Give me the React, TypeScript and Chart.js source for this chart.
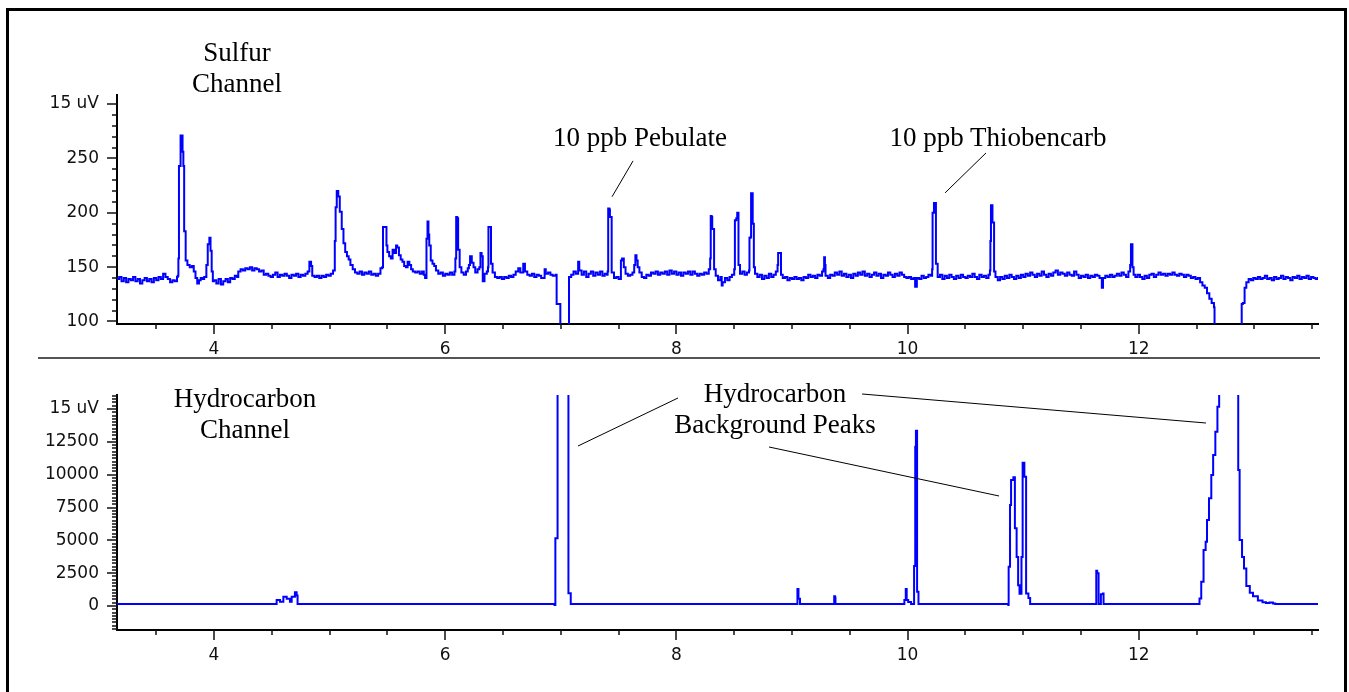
import React, { useEffect, useRef } from "react";
import { Chart, registerables } from "chart.js";

Chart.register(...registerables);

// ---- axes ----
const X_MIN = 3.161;
const X_MAX = 13.55;
const X_TICKS = [4, 6, 8, 10, 12];

const S_Y_MIN = 97.7;
const S_Y_MAX = 308.3;
const S_Y_TICKS = [100, 150, 200, 250, 300];
const S_Y_LABELS = ["100", "150", "200", "250", "15 uV"];

const H_Y_MIN = -1827;
const H_Y_MAX = 16066;
const H_Y_TICKS = [0, 2500, 5000, 7500, 10000, 12500, 15000];
const H_Y_LABELS = ["0", "2500", "5000", "7500", "10000", "12500", "15 uV"];

// ---- sulfur channel trace (time, signal) ----
const SULFUR_T = [
  3.161, 3.18, 3.2, 3.22, 3.24, 3.26, 3.28, 3.3, 3.32, 3.34, 3.36, 3.38, 3.4, 3.42, 3.44, 3.46, 3.48, 3.5, 3.52, 3.54,
  3.56, 3.58, 3.6, 3.62, 3.64, 3.66, 3.68, 3.686, 3.692, 3.697, 3.711, 3.728, 3.735, 3.742, 3.755, 3.77, 3.79, 3.81,
  3.825, 3.84, 3.855, 3.87, 3.885, 3.9, 3.915, 3.934, 3.946, 3.96, 3.97, 3.98, 3.99, 4.0, 4.02, 4.04, 4.06, 4.08, 4.1,
  4.12, 4.14, 4.16, 4.18, 4.2, 4.21, 4.23, 4.25, 4.27, 4.29, 4.31, 4.33, 4.35, 4.37, 4.39, 4.41, 4.43, 4.45, 4.47,
  4.49, 4.51, 4.53, 4.55, 4.57, 4.59, 4.61, 4.63, 4.65, 4.67, 4.69, 4.71, 4.73, 4.75, 4.77, 4.79, 4.81, 4.825, 4.84,
  4.85, 4.87, 4.89, 4.91, 4.93, 4.95, 4.97, 4.99, 5.01, 5.03, 5.045, 5.052, 5.062, 5.075, 5.088, 5.105, 5.12, 5.135,
  5.15, 5.165, 5.18, 5.2, 5.22, 5.24, 5.26, 5.28, 5.3, 5.32, 5.34, 5.36, 5.38, 5.4, 5.42, 5.44, 5.455, 5.462, 5.485,
  5.492, 5.5, 5.515, 5.53, 5.545, 5.56, 5.575, 5.585, 5.6, 5.615, 5.63, 5.645, 5.66, 5.675, 5.69, 5.705, 5.72, 5.74,
  5.76, 5.78, 5.8, 5.815, 5.826, 5.838, 5.847, 5.855, 5.862, 5.875, 5.89, 5.905, 5.92, 5.94, 5.96, 5.98, 6.0, 6.02,
  6.04, 6.06, 6.08, 6.088, 6.095, 6.104, 6.112, 6.125, 6.14, 6.16, 6.18, 6.195, 6.205, 6.215, 6.23, 6.245, 6.26, 6.28,
  6.295, 6.305, 6.315, 6.325, 6.34, 6.36, 6.37, 6.374, 6.388, 6.396, 6.41, 6.43, 6.45, 6.47, 6.49, 6.51, 6.53, 6.55,
  6.57, 6.59, 6.61, 6.632, 6.65, 6.675, 6.69, 6.71, 6.73, 6.75, 6.77, 6.79, 6.81, 6.83, 6.86, 6.87, 6.89, 6.91, 6.93,
  6.955, 6.964, 6.993, 6.996, 7.068, 7.071, 7.09, 7.11, 7.13, 7.15, 7.16, 7.18, 7.2, 7.22, 7.24, 7.26, 7.28, 7.3, 7.32,
  7.34, 7.36, 7.38, 7.4, 7.405, 7.41, 7.42, 7.425, 7.435, 7.44, 7.46, 7.48, 7.5, 7.52, 7.53, 7.545, 7.56, 7.58, 7.6,
  7.62, 7.635, 7.645, 7.655, 7.665, 7.68, 7.7, 7.72, 7.74, 7.76, 7.78, 7.8, 7.82, 7.84, 7.86, 7.88, 7.9, 7.92, 7.94,
  7.96, 7.98, 8.0, 8.02, 8.04, 8.06, 8.08, 8.1, 8.12, 8.14, 8.16, 8.18, 8.2, 8.22, 8.24, 8.26, 8.28, 8.292, 8.297,
  8.305, 8.31, 8.318, 8.326, 8.34, 8.36, 8.38, 8.392, 8.4, 8.42, 8.44, 8.46, 8.48, 8.5, 8.506, 8.518, 8.526, 8.532,
  8.537, 8.55, 8.57, 8.59, 8.61, 8.628, 8.632, 8.643, 8.646, 8.656, 8.66, 8.666, 8.67, 8.68, 8.7, 8.72, 8.74, 8.76,
  8.78, 8.8, 8.82, 8.84, 8.86, 8.875, 8.88, 8.895, 8.905, 8.92, 8.94, 8.96, 8.98, 9.0, 9.02, 9.04, 9.06, 9.08, 9.1,
  9.12, 9.14, 9.16, 9.18, 9.2, 9.22, 9.24, 9.26, 9.272, 9.278, 9.285, 9.29, 9.31, 9.33, 9.35, 9.37, 9.39, 9.41, 9.43,
  9.45, 9.47, 9.49, 9.51, 9.53, 9.55, 9.57, 9.59, 9.61, 9.63, 9.65, 9.67, 9.69, 9.71, 9.73, 9.75, 9.77, 9.79, 9.81,
  9.83, 9.85, 9.87, 9.89, 9.91, 9.93, 9.95, 9.97, 9.99, 10.01, 10.03, 10.05, 10.065, 10.08, 10.1, 10.12, 10.14, 10.16,
  10.18, 10.2, 10.212, 10.216, 10.222, 10.228, 10.24, 10.245, 10.26, 10.28, 10.3, 10.32, 10.34, 10.36, 10.38, 10.4,
  10.42, 10.44, 10.46, 10.48, 10.5, 10.52, 10.54, 10.56, 10.58, 10.6, 10.62, 10.64, 10.66, 10.68, 10.7, 10.712,
  10.716, 10.719, 10.721, 10.731, 10.734, 10.744, 10.748, 10.76, 10.78, 10.8, 10.82, 10.84, 10.86, 10.88, 10.9, 10.92,
  10.94, 10.96, 10.98, 11.0, 11.02, 11.04, 11.06, 11.08, 11.1, 11.12, 11.14, 11.16, 11.18, 11.2, 11.22, 11.24, 11.26,
  11.28, 11.3, 11.32, 11.34, 11.36, 11.38, 11.4, 11.42, 11.44, 11.46, 11.48, 11.5, 11.52, 11.54, 11.56, 11.58, 11.6,
  11.62, 11.64, 11.66, 11.68, 11.69, 11.71, 11.73, 11.75, 11.77, 11.79, 11.81, 11.83, 11.85, 11.87, 11.89, 11.91,
  11.925, 11.932, 11.94, 11.945, 11.955, 11.97, 11.99, 12.01, 12.03, 12.05, 12.07, 12.09, 12.11, 12.13, 12.15, 12.17,
  12.19, 12.21, 12.23, 12.25, 12.27, 12.29, 12.31, 12.33, 12.35, 12.37, 12.39, 12.41, 12.43, 12.45, 12.47, 12.49,
  12.51, 12.53, 12.55, 12.57, 12.59, 12.61, 12.63, 12.65, 12.655, 12.885, 12.89, 12.9, 12.915, 12.93, 12.95, 12.97,
  12.99, 13.01, 13.03, 13.05, 13.07, 13.09, 13.11, 13.13, 13.15, 13.17, 13.19, 13.21, 13.23, 13.25, 13.27, 13.29,
  13.31, 13.33, 13.35, 13.37, 13.39, 13.41, 13.43, 13.45, 13.47, 13.49, 13.51, 13.53, 13.55,
];
const SULFUR_V = [
  139, 141, 137, 140, 136, 139, 138, 141, 137, 139, 135, 138, 140, 137, 139, 136, 140, 138, 141, 139,
  144, 141, 139, 136, 138, 137, 141, 142, 158, 243, 271, 256, 243, 183, 156, 152, 150, 151,
  146, 140, 135, 138, 140, 139, 141, 152, 171, 177, 165, 146, 137, 138, 135, 139, 134, 137, 139,
  136, 140, 139, 142, 141, 146, 148, 147, 149, 148, 150, 147, 149, 148, 146, 147, 143, 144, 142,
  141, 143, 145, 141, 143, 142, 144, 142, 140, 143, 142, 144, 141, 143, 142, 144, 146, 155, 151,
  142, 141, 142, 140, 142, 141, 143, 142, 144, 147, 174, 205, 220, 215, 201, 185, 172, 164,
  160, 157, 152, 148, 145, 144, 146, 143, 145, 144, 146, 143, 144, 142, 144, 149, 150, 187, 187,
  170, 164, 160, 158, 166, 163, 170, 168, 161, 157, 155, 151, 150, 155, 152, 148, 146, 145,
  146, 144, 146, 143, 140, 176, 192, 180, 170, 156, 153, 151, 147, 144, 145, 142, 144, 143,
  145, 143, 146, 158, 196, 195, 166, 150, 145, 143, 146, 149, 152, 160, 154, 150, 145, 148,
  150, 163, 160, 137, 144, 146, 150, 187, 187, 153, 145, 141, 140, 141, 139, 141, 140, 142,
  141, 143, 146, 149, 145, 153, 146, 143, 142, 144, 141, 143, 142, 140, 148, 144, 145, 143, 142,
  143, 116, 116, 60, 60, 141, 143, 146, 144, 155, 147, 143, 146, 141, 144, 146, 142, 145, 143,
  146, 142, 144, 143, 146, 204, 203, 196, 196, 145, 140, 141, 139, 156, 158, 150, 144, 142, 143,
  145, 152, 161, 156, 150, 145, 141, 140, 143, 142, 145, 144, 146, 143, 145, 144, 146, 143, 147,
  144, 146, 143, 145, 142, 145, 144, 146, 143, 146, 144, 142, 144, 143, 145, 144, 148, 158, 197,
  196, 185, 185, 148, 142, 138, 141, 133, 136, 140, 138, 141, 143, 148, 193, 195, 200, 200,
  152, 144, 146, 143, 145, 147, 177, 178, 218, 218, 190, 190, 150, 144, 141, 143, 139, 142,
  140, 144, 141, 143, 146, 152, 163, 163, 143, 140, 141, 138, 140, 139, 141, 139, 140, 138, 141,
  140, 143, 141, 142, 140, 143, 142, 146, 148, 159, 152, 142, 140, 143, 142, 145, 143, 146, 142,
  144, 141, 143, 140, 144, 142, 145, 143, 146, 142, 144, 141, 143, 145, 142, 144, 140, 143, 142,
  145, 143, 141, 144, 142, 145, 143, 141, 140, 141, 139, 140, 132, 140, 139, 142, 140, 141,
  143, 142, 148, 200, 200, 209, 209, 153, 141, 143, 139, 142, 140, 143, 141, 139,
  142, 140, 143, 141, 140, 142, 141, 144, 141, 139, 143, 141, 142, 140, 143, 147,
  174, 174, 207, 207, 191, 191, 146, 141, 138, 141, 139, 142, 140, 143, 141, 139,
  142, 140, 143, 141, 144, 142, 145, 143, 141, 144, 142, 146, 143, 141, 144, 142, 145,
  147, 143, 145, 144, 142, 145, 143, 142, 146, 143, 140, 142, 141, 143, 140, 142, 141,
  143, 142, 140, 131, 140, 142, 141, 143, 141, 142, 144, 142, 145, 143, 141, 146,
  152, 171, 171, 150, 143, 141, 143, 141, 139, 142, 140, 143, 144, 141, 143, 145,
  143, 144, 142, 144, 143, 145, 143, 142, 144, 143, 141, 143, 142, 140, 141, 139,
  140, 136, 133, 131, 126, 121, 117, 113, 60, 60, 116, 117, 131, 136, 139, 138,
  140, 139, 141, 139, 140, 142, 139, 140, 138, 141, 139, 140, 142, 139, 141, 140,
  138, 141, 140, 142, 139, 141, 140, 142, 139, 141, 140, 139, 141,
];

// ---- hydrocarbon channel trace (time, signal) ----
const HC_T = [
  3.161, 4.5, 4.542, 4.571, 4.6, 4.629, 4.657, 4.672, 4.7, 4.715, 4.723, 6.944, 6.946, 6.953, 6.968, 6.972, 7.062,
  7.066, 7.083, 7.086, 9.044, 9.047, 9.053, 9.056, 9.066, 9.069, 9.362, 9.365, 9.372, 9.376, 9.965, 9.972, 9.984,
  9.992, 10.005, 10.03, 10.052, 10.056, 10.062, 10.066, 10.072, 10.078, 10.082, 10.09, 10.094, 10.868, 10.871,
  10.874, 10.886, 10.895, 10.915, 10.928, 10.943, 10.956, 10.968, 10.985, 10.995, 11.005, 11.01, 11.02, 11.025,
  11.045, 11.06, 11.628, 11.632, 11.64, 11.648, 11.652, 11.668, 11.672, 11.69, 11.695, 12.51, 12.525, 12.54, 12.56,
  12.578, 12.59, 12.607, 12.627, 12.643, 12.662, 12.68, 12.695, 12.857, 12.86, 12.872, 12.893, 12.91, 12.93, 12.96,
  12.988, 13.03, 13.07, 13.1, 13.13, 13.16, 13.18, 13.55,
];
const HC_V = [
  150, 150, 460, 330, 700, 560, 330, 700, 1040, 800, 150, 150, 80, 5150, 5150, 30000, 30000,
  967, 967, 150, 150, 1290, 1290, 550, 550, 150, 150, 740, 650, 150, 150, 460, 1290,
  460, 300, 150, 150, 3050, 3050, 12130, 13350, 13350, 1090, 1090, 150, 150, 80,
  2990, 7690, 9590, 9800, 5920, 3740, 1580, 940, 3740, 10910, 10910, 9850, 9850, 960,
  600, 150, 150, 2690, 2500, 2500, 150, 150, 900, 960, 150, 150, 580, 1850, 4260,
  4900, 6550, 8200, 9970, 11500, 13270, 15180, 30000, 30000, 10360, 5030, 3740, 2860, 1520, 1010,
  750, 420, 280, 220, 260, 200, 150, 150,
];

// ---- annotation leader lines, in data units: [t1, v1, t2, v2] ----
const TOP_LEADERS = [
  [7.625, 247.7, 7.443, 214.7],
  [10.678, 255, 10.324, 218.3],
];
const BOTTOM_LEADERS = [
  [8.014, 15838, 7.149, 12183],
  [9.606, 16143, 12.581, 13934],
  [8.801, 12107, 10.791, 8376],
];

const TICK_FONT = { family: '"DejaVu Sans", Verdana, sans-serif', size: 17 };

function makeDecor(yMajor: number[], yMinorStep: number, leaders: number[][]) {
  return {
    id: "decor",
    afterDraw(chart: any) {
      const { ctx, chartArea: a, scales } = chart;
      const xs = scales.x;
      const ys = scales.y;
      ctx.save();
      ctx.strokeStyle = "#111";
      ctx.lineWidth = 1.5;
      ctx.beginPath();
      const xStep = 0.5;
      for (let i = Math.ceil(xs.min / xStep); i * xStep <= xs.max + 1e-9; i++) {
        const v = i * xStep;
        const major = X_TICKS.some((m) => Math.abs(m - v) < 1e-6);
        const px = Math.round(xs.getPixelForValue(v));
        ctx.moveTo(px, a.bottom);
        ctx.lineTo(px, a.bottom + (major ? 10 : 5));
      }
      for (let i = Math.ceil(ys.min / yMinorStep); i * yMinorStep <= ys.max + 1e-9; i++) {
        const v = i * yMinorStep;
        const major = yMajor.some((m) => Math.abs(m - v) < 1e-6);
        const py = Math.round(ys.getPixelForValue(v));
        ctx.moveTo(a.left, py);
        ctx.lineTo(a.left - (major ? 10 : 5), py);
      }
      ctx.stroke();
      ctx.strokeStyle = "#000";
      ctx.lineWidth = 1;
      ctx.beginPath();
      for (const [t1, v1, t2, v2] of leaders) {
        ctx.moveTo(xs.getPixelForValue(t1), ys.getPixelForValue(v1));
        ctx.lineTo(xs.getPixelForValue(t2), ys.getPixelForValue(v2));
      }
      ctx.stroke();
      ctx.restore();
    },
  };
}

function buildConfig(
  ts: number[],
  vs: number[],
  yMin: number,
  yMax: number,
  yTicks: number[],
  yLabels: string[],
  padTop: number,
  xAxisH: number,
  yMinorStep: number,
  leaders: number[][]
): any {
  return {
    type: "line",
    data: {
      datasets: [
        {
          data: ts.map((t, i) => ({ x: t, y: vs[i] })),
          borderColor: "#0000ff",
          borderWidth: 2,
          pointRadius: 0,
          tension: 0,
          stepped: true,
          fill: false,
          clip: 0,
        },
      ],
    },
    options: {
      responsive: false,
      animation: false,
      devicePixelRatio: 1,
      events: [],
      layout: { padding: { left: 0, top: padTop, right: 31, bottom: 0 } },
      plugins: { legend: { display: false }, tooltip: { enabled: false } },
      scales: {
        x: {
          type: "linear",
          min: X_MIN,
          max: X_MAX,
          grid: { display: false, drawTicks: false },
          border: { display: true, color: "#000", width: 2 },
          afterBuildTicks: (s: any) => {
            s.ticks = X_TICKS.map((v) => ({ value: v }));
          },
          afterFit: (s: any) => {
            s.height = xAxisH;
            s.paddingLeft = 0;
            s.paddingRight = 0;
          },
          ticks: {
            autoSkip: false,
            maxRotation: 0,
            padding: 15,
            color: "#111",
            font: TICK_FONT,
            callback: (v: number) => String(v),
          },
        },
        y: {
          type: "linear",
          min: yMin,
          max: yMax,
          grid: { display: false, drawTicks: false },
          border: { display: true, color: "#000", width: 2 },
          afterBuildTicks: (s: any) => {
            s.ticks = yTicks.map((v) => ({ value: v }));
          },
          afterFit: (s: any) => {
            s.width = 117;
            s.paddingTop = 0;
            s.paddingBottom = 0;
          },
          ticks: {
            autoSkip: false,
            padding: 18,
            color: "#111",
            font: TICK_FONT,
            callback: (v: number) => {
              const i = yTicks.indexOf(v);
              return i >= 0 ? yLabels[i] : String(v);
            },
          },
        },
      },
    },
    plugins: [makeDecor(yTicks, yMinorStep, leaders)],
  };
}

const serif: React.CSSProperties = {
  position: "absolute",
  width: 320,
  textAlign: "center",
  fontFamily: '"Liberation Serif", "Times New Roman", serif',
  fontSize: 27,
  lineHeight: "31px",
  color: "#000",
  whiteSpace: "nowrap",
};

export default function App() {
  const topRef = useRef<HTMLCanvasElement>(null);
  const botRef = useRef<HTMLCanvasElement>(null);

  useEffect(() => {
    const c1 = new Chart(
      topRef.current as HTMLCanvasElement,
      buildConfig(SULFUR_T, SULFUR_V, S_Y_MIN, S_Y_MAX, S_Y_TICKS, S_Y_LABELS, 15, 36, 10, TOP_LEADERS)
    );
    const c2 = new Chart(
      botRef.current as HTMLCanvasElement,
      buildConfig(HC_T, HC_V, H_Y_MIN, H_Y_MAX, H_Y_TICKS, H_Y_LABELS, 35, 62, 250, BOTTOM_LEADERS)
    );
    return () => {
      c1.destroy();
      c2.destroy();
    };
  }, []);

  return (
    <div
      style={{
        position: "absolute",
        left: 0,
        top: 0,
        width: 1349,
        height: 692,
        overflow: "hidden",
        background: "#fff",
      }}
    >
      <div
        style={{
          position: "absolute",
          left: 6,
          top: 8,
          width: 1341,
          height: 700,
          boxSizing: "border-box",
          border: "3px solid #000",
          borderBottom: "none",
        }}
      />
      <div style={{ position: "absolute", left: 38, top: 357, width: 1282, height: 2, background: "#555" }} />
      <canvas ref={topRef} width={1349} height={280} style={{ position: "absolute", left: 0, top: 80 }} />
      <canvas ref={botRef} width={1349} height={332} style={{ position: "absolute", left: 0, top: 360 }} />
      <div style={{ ...serif, left: 237 - 160, top: 37 }}>
        Sulfur
        <br />
        Channel
      </div>
      <div style={{ ...serif, left: 640 - 160, top: 122 }}>10 ppb Pebulate</div>
      <div style={{ ...serif, left: 998 - 160, top: 122 }}>10 ppb Thiobencarb</div>
      <div style={{ ...serif, left: 245 - 160, top: 383 }}>
        Hydrocarbon
        <br />
        Channel
      </div>
      <div style={{ ...serif, left: 775 - 160, top: 378 }}>
        Hydrocarbon
        <br />
        Background Peaks
      </div>
    </div>
  );
}
